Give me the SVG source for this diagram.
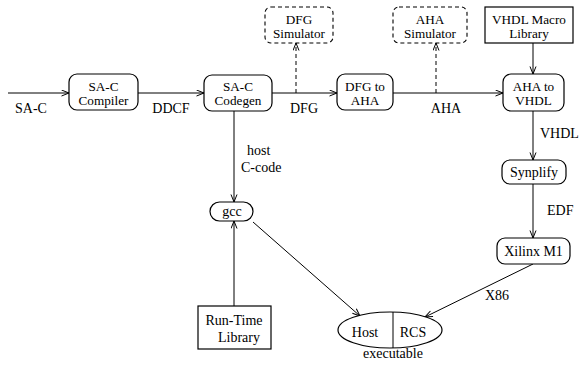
<svg xmlns="http://www.w3.org/2000/svg" width="579" height="365" viewBox="0 0 579 365" font-family="'Liberation Serif', 'DejaVu Serif', 'Times New Roman', Times, serif">
<style>
text{font-family:'Liberation Serif','DejaVu Serif','Times New Roman',Times,serif;font-size:14px;fill:#000;text-anchor:middle}
.t2{font-size:13.2px}
.box{fill:#fff;stroke:#000;stroke-width:1.2}
.dash{fill:#fff;stroke:#000;stroke-width:1.1;stroke-dasharray:4,3}
.c{stroke:#000;stroke-width:1;fill:none}
.cd{stroke:#000;stroke-width:1;fill:none;stroke-dasharray:4,3}
.l{text-anchor:start}
</style>
<defs>
<marker id="ah" markerWidth="9" markerHeight="8" refX="8" refY="3.5" orient="auto" markerUnits="userSpaceOnUse">
<path d="M0.5,0.5 L8,3.5 L0.5,6.5" fill="none" stroke="#000" stroke-width="1"/>
</marker>
</defs>
<g id="connectors">
<line class="c" x1="8" y1="93" x2="69" y2="93" marker-end="url(#ah)"/>
<line class="c" x1="138" y1="93" x2="204" y2="93" marker-end="url(#ah)"/>
<line class="c" x1="272" y1="93" x2="337" y2="93" marker-end="url(#ah)"/>
<line class="cd" x1="296" y1="93" x2="296" y2="43" marker-end="url(#ah)"/>
<line class="c" x1="393" y1="93" x2="503" y2="93" marker-end="url(#ah)"/>
<line class="cd" x1="436" y1="93" x2="436" y2="43" marker-end="url(#ah)"/>
<line class="c" x1="533" y1="43" x2="533" y2="74" marker-end="url(#ah)"/>
<line class="c" x1="533" y1="111" x2="533" y2="160" marker-end="url(#ah)"/>
<line class="c" x1="533" y1="184" x2="533" y2="238" marker-end="url(#ah)"/>
<line class="c" x1="533" y1="264" x2="425" y2="317" marker-end="url(#ah)"/>
<line class="c" x1="234" y1="111" x2="234" y2="202" marker-end="url(#ah)"/>
<line class="c" x1="234" y1="306" x2="234" y2="221" marker-end="url(#ah)"/>
<line class="c" x1="253" y1="222" x2="360" y2="316" marker-end="url(#ah)"/>
<text x="31" y="113">SA-C</text>
<text x="171" y="113">DDCF</text>
<text x="304" y="113">DFG</text>
<text x="446" y="113">AHA</text>
<text class="l" x="540" y="138">VHDL</text>
<text class="l" x="547" y="215">EDF</text>
<text class="l" x="485" y="300">X86</text>
<text class="l" x="247" y="155">host</text>
<text class="l" x="241" y="172">C-code</text>
</g>
<g id="sac-compiler">
<rect class="box" x="69" y="74" width="69" height="36" rx="8"/>
<text class="t2" x="103.5" y="90.5">SA-C</text>
<text class="t2" x="103.5" y="105">Compiler</text>
</g>
<g id="sac-codegen">
<rect class="box" x="204" y="75" width="68" height="36" rx="8"/>
<text class="t2" x="238" y="90.5">SA-C</text>
<text class="t2" x="238" y="105">Codegen</text>
</g>
<g id="dfg-simulator">
<rect class="dash" x="265" y="7" width="68" height="36" rx="6"/>
<text class="t2" x="299" y="23.5">DFG</text>
<text class="t2" x="299" y="38">Simulator</text>
</g>
<g id="dfg-to-aha">
<rect class="box" x="337" y="74" width="56" height="36" rx="8"/>
<text class="t2" x="365" y="90.5">DFG to</text>
<text class="t2" x="365" y="105">AHA</text>
</g>
<g id="aha-simulator">
<rect class="dash" x="393" y="7" width="74" height="36" rx="6"/>
<text class="t2" x="430" y="23.5">AHA</text>
<text class="t2" x="430" y="38">Simulator</text>
</g>
<g id="vhdl-macro-library">
<rect class="box" x="485" y="7" width="88" height="36"/>
<text class="t2" x="529" y="23.5">VHDL  Macro</text>
<text class="t2" x="529" y="38">Library</text>
</g>
<g id="aha-to-vhdl">
<rect class="box" x="503" y="74" width="61" height="37" rx="8"/>
<text class="t2" x="533.5" y="90.5">AHA to</text>
<text class="t2" x="533.5" y="105">VHDL</text>
</g>
<g id="synplify">
<rect class="box" x="502" y="160" width="64" height="24" rx="8"/>
<text x="534" y="177">Synplify</text>
</g>
<g id="xilinx-m1">
<rect class="box" x="497" y="238" width="73" height="26" rx="8"/>
<text x="533.5" y="256">Xilinx M1</text>
</g>
<g id="gcc">
<rect class="box" x="210" y="202" width="43" height="19" rx="9.5"/>
<text x="232" y="216">gcc</text>
</g>
<g id="run-time-library">
<rect class="box" x="198" y="306" width="73" height="43"/>
<text x="234" y="325">Run-Time</text>
<text x="239" y="342">Library</text>
</g>
<g id="executable">
<ellipse class="box" cx="390" cy="330" rx="52" ry="18"/>
<line class="c" x1="393" y1="312" x2="393" y2="348"/>
<text x="365" y="337">Host</text>
<text x="413" y="337">RCS</text>
<text x="393" y="358">executable</text>
</g>
</svg>
